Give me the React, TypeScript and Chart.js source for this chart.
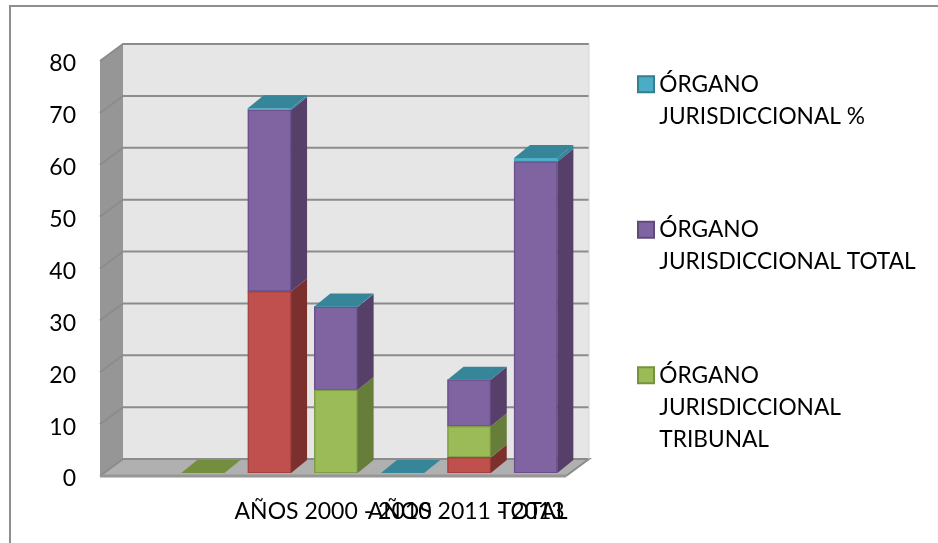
import React, { useEffect, useRef } from "react";
import { Chart, registerables } from "chart.js";

Chart.register(...registerables);

const categories = ["", "", "", "AÑOS 2000 - 2010", "", "AÑOS 2011 - 2013", "TOTAL"];
const seriesRed = [null, null, 35, null, null, 3, null];
const seriesTribunal = [null, 0, null, 16, null, 6, null];
const seriesTotal = [null, null, 35, 16, null, 9, 60];
const seriesPercent = [null, null, 0.3, 0.1, 0, 0, 0.7];
const legendTribunal = ["ÓRGANO", "JURISDICCIONAL", "TRIBUNAL"];
const legendTotal = ["ÓRGANO", "JURISDICCIONAL TOTAL"];
const legendPercent = ["ÓRGANO", "JURISDICCIONAL %"];

const FONT = "Lato, 'Open Sans', sans-serif";
const DEPTH = { barX: 16, barY: 13, wallX: 23, wallY: 17, shiftX: -3, shiftY: 3 };

const path = (ctx: CanvasRenderingContext2D, pts: number[][], fill: string) => {
  ctx.beginPath();
  pts.forEach(([x, y], i) => (i ? ctx.lineTo(x, y) : ctx.moveTo(x, y)));
  ctx.closePath();
  ctx.fillStyle = fill;
  ctx.fill();
};

const room = {
  id: "room",
  beforeDraw(chart: any) {
    const { ctx } = chart;
    ctx.save();
    ctx.strokeStyle = "#8f8f8f";
    ctx.lineWidth = 2;
    ctx.strokeRect(10, 6, 1000, 600);
    ctx.restore();
  },
  beforeDatasetsDraw(chart: any) {
    const { ctx, chartArea: a, scales } = chart;
    const y = scales.y;
    const fl = a.left + DEPTH.shiftX;
    const fr = a.right + DEPTH.shiftX;
    const top = y.getPixelForValue(y.max) + DEPTH.shiftY;
    const bot = y.getPixelForValue(0) + DEPTH.shiftY;
    const bl = fl + DEPTH.wallX;
    const br = fr + DEPTH.wallX;
    const d = DEPTH.wallY;
    ctx.save();
    path(ctx, [[bl, top - d], [br, top - d], [br, bot - d], [bl, bot - d]], "#e6e6e6");
    path(ctx, [[fl, top], [bl, top - d], [bl, bot - d], [fl, bot]], "#969696");
    path(ctx, [[fl, bot], [bl, bot - d], [br, bot - d], [fr, bot]], "#b0b0b0");
    ctx.strokeStyle = "#8c8c8c";
    ctx.lineWidth = 2;
    y.ticks.forEach((t: any) => {
      const py = y.getPixelForValue(t.value) + DEPTH.shiftY;
      ctx.beginPath();
      ctx.moveTo(fl, py);
      ctx.lineTo(bl, py - d);
      ctx.lineTo(br, py - d);
      if (t.value === 0) ctx.lineTo(fr, py);
      ctx.stroke();
    });
    ctx.beginPath();
    ctx.moveTo(fl, bot);
    ctx.lineTo(fr, bot);
    ctx.lineWidth = 3;
    ctx.strokeStyle = "#969696";
    ctx.stroke();
    ctx.strokeStyle = "#d6d6d6";
    ctx.lineWidth = 1;
    ctx.beginPath();
    ctx.moveTo(br, top - d);
    ctx.lineTo(br, bot - d);
    ctx.stroke();
    ctx.restore();
  },
  afterDatasetsDraw(chart: any) {
    const { ctx } = chart;
    const dx = DEPTH.barX;
    const dy = DEPTH.barY;
    ctx.save();
    categories.forEach((_, j) => {
      let last: any = null;
      let lastDs: any = null;
      chart.data.datasets.forEach((ds: any, i: number) => {
        if (ds.data[j] == null) return;
        const el = chart.getDatasetMeta(i).data[j];
        const x1 = el.x + el.width / 2;
        path(ctx, [[x1, el.y], [x1 + dx, el.y - dy], [x1 + dx, el.base - dy], [x1, el.base]], ds.sideColor);
        last = el;
        lastDs = ds;
      });
      if (last) {
        const x0 = last.x - last.width / 2;
        const x1 = last.x + last.width / 2;
        path(ctx, [[x0, last.y], [x1, last.y], [x1 + dx, last.y - dy], [x0 + dx, last.y - dy]], lastDs.topColor);
      }
    });
    ctx.restore();
  },
};

const placeLegend = {
  id: "placeLegend",
  afterLayout(chart: any) {
    const l = chart.legend;
    const pad = l.options.labels.padding;
    l.left = 644 - pad;
    l.right = 938;
    l.top = 73 - pad;
    l.bottom = 600;
  },
};

export default function App() {
  const ref = useRef<HTMLCanvasElement>(null);
  useEffect(() => {
    document.body.style.margin = "0";
    const makeItem = (text: string[], fill: string, stroke: string) => ({
      text,
      fillStyle: fill,
      strokeStyle: stroke,
      lineWidth: 2,
      pointStyle: "rect",
      hidden: false,
    });
    const chart = new Chart(ref.current as HTMLCanvasElement, {
      type: "bar",
      data: {
        labels: categories,
        datasets: [
          { label: "", data: seriesRed, backgroundColor: "#c0504d", borderColor: "#a5423f", sideColor: "#7c302e", topColor: "#a5423f" },
          { label: "ÓRGANO JURISDICCIONAL TRIBUNAL", data: seriesTribunal, backgroundColor: "#9bbb59", borderColor: "#7f9c46", sideColor: "#677d3a", topColor: "#748e3f" },
          { label: "ÓRGANO JURISDICCIONAL TOTAL", data: seriesTotal, backgroundColor: "#8064a2", borderColor: "#6a4f8c", sideColor: "#564069", topColor: "#5f4a79" },
          { label: "ÓRGANO JURISDICCIONAL %", data: seriesPercent, backgroundColor: "#4bacc6", borderColor: "#4bacc6", sideColor: "#31859c", topColor: "#368599" },
        ] as any,
      },
      options: {
        responsive: false,
        animation: false,
        devicePixelRatio: 1,
        layout: { padding: { top: 58, left: 0, bottom: 0, right: 359 } },
        datasets: { bar: { categoryPercentage: 1, barPercentage: 0.65, borderWidth: 1.5, borderSkipped: false, inflateAmount: 0.4 } },
        scales: {
          x: {
            stacked: true,
            grid: { display: false },
            border: { display: false },
            afterFit(s: any) { s.height = 70; },
            ticks: { autoSkip: false, maxRotation: 0, minRotation: 0, padding: 17, labelOffset: -3, color: "#000", font: { family: FONT, size: 23 } },
          },
          y: {
            stacked: true,
            min: 0,
            max: 80,
            grid: { display: false, drawTicks: false },
            border: { display: false },
            afterFit(s: any) { s.width = 103; },
            ticks: { stepSize: 10, padding: 27, labelOffset: 6, color: "#000", font: { family: FONT, size: 23 } },
          },
        },
        plugins: {
          tooltip: { enabled: false },
          title: { display: false },
          legend: {
            position: "right",
            align: "start",
            maxWidth: 10,
            labels: {
              usePointStyle: true,
              boxWidth: 4,
              boxHeight: 16,
              padding: 81,
              color: "#000",
              font: { family: FONT, size: 22.7, lineHeight: 1.42 },
              generateLabels: () => [
                makeItem(legendPercent, "#4bacc6", "#357d91"),
                makeItem(legendTotal, "#8064a2", "#5f4a79"),
                makeItem(legendTribunal, "#9bbb59", "#76923c"),
              ],
            },
          },
        },
      } as any,
      plugins: [room, placeLegend],
    });
    return () => chart.destroy();
  }, []);
  return <canvas ref={ref} width={938} height={543} style={{ display: "block", filter: "blur(0.4px)" }} />;
}
